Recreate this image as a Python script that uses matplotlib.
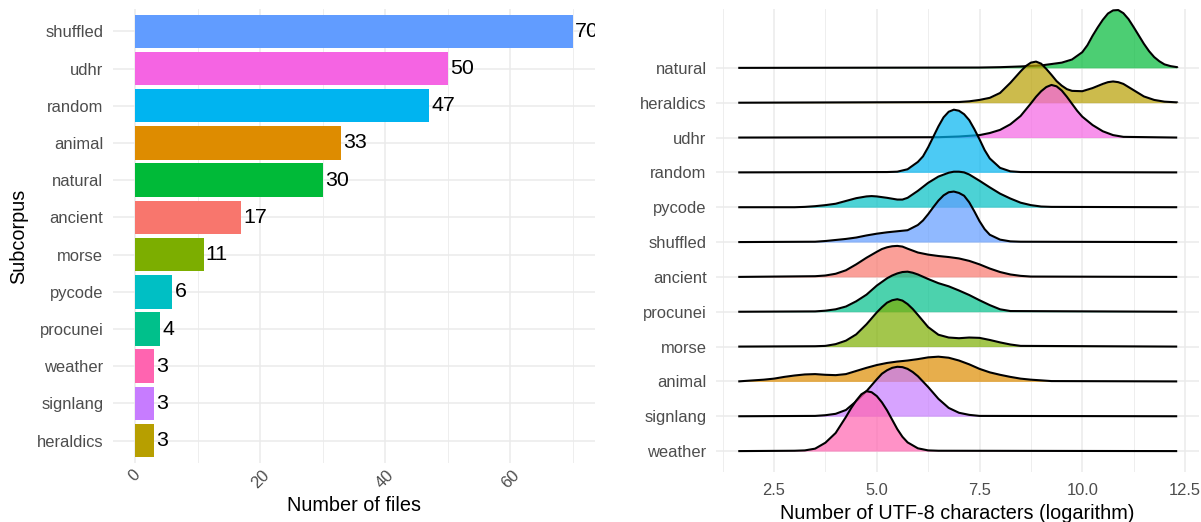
import numpy as np
import matplotlib
matplotlib.use("Agg")
import matplotlib.pyplot as plt
from matplotlib.ticker import MultipleLocator

plt.rcParams['font.family'] = ['Liberation Sans', 'DejaVu Sans']

# ---- left panel: number of files per subcorpus (top to bottom)
bar_names = ["shuffled", "udhr", "random", "animal", "natural", "ancient",
             "morse", "pycode", "procunei", "weather", "signlang", "heraldics"]
bar_counts = [70, 50, 47, 33, 30, 17, 11, 6, 4, 3, 3, 3]

# ---- right panel: ridge order (bottom to top)
ridge_names = ["weather", "signlang", "animal", "morse", "procunei", "ancient",
               "shuffled", "pycode", "random", "udhr", "heraldics", "natural"]

# ggplot hue palette, alphabetical subcorpus order
colors = {
    "ancient": "#F8766D", "animal": "#DE8C00", "heraldics": "#B79F00",
    "morse": "#7CAE00", "natural": "#00BA38", "procunei": "#00C08B",
    "pycode": "#00BFC4", "random": "#00B4F0", "shuffled": "#619CFF",
    "signlang": "#C77CFF", "udhr": "#F564E3", "weather": "#FF64B0",
}

# density range (log of character counts)
x_min, x_max = 1.63, 12.31

# ridge heights (in row units): (x, height)
d_natural = [(7.5, .01), (8.0, .02), (8.5, .04), (9.0, .07), (9.5, .15), (9.75, .24),
             (10.0, .45), (10.125, .65), (10.25, .92), (10.375, 1.16), (10.5, 1.38),
             (10.625, 1.56), (10.75, 1.65), (10.875, 1.66), (11.0, 1.57), (11.125, 1.4),
             (11.25, 1.17), (11.375, .93), (11.5, .69), (11.625, .48), (11.75, .31),
             (11.875, .19), (12.0, .1), (12.15, .05), (12.31, .02)]
d_heraldics = [(7.0, .02), (7.25, .04), (7.5, .08), (7.75, .14), (8.0, .28), (8.25, .57),
               (8.5, .9), (8.625, 1.05), (8.75, 1.15), (8.875, 1.18), (9.0, 1.12),
               (9.125, .97), (9.25, .8), (9.375, .62), (9.5, .49), (9.625, .39), (9.75, .34),
               (10.0, .33), (10.25, .42), (10.5, .54), (10.625, .59), (10.75, .61),
               (10.875, .59), (11.0, .54), (11.25, .36), (11.5, .18), (11.75, .08),
               (12.0, .03), (12.31, .01)]
d_udhr = [(6.5, .01), (7.0, .03), (7.5, .07), (7.75, .13), (8.0, .22), (8.25, .38),
          (8.5, .62), (8.75, .98), (8.875, 1.17), (9.0, 1.33), (9.125, 1.45), (9.25, 1.51),
          (9.375, 1.47), (9.5, 1.35), (9.625, 1.17), (9.75, .97), (9.875, .77), (10.0, .6),
          (10.25, .36), (10.5, .18), (10.75, .07), (11.0, .02)]
d_random = [(5.25, .01), (5.5, .02), (5.75, .09), (6.0, .3), (6.125, .46), (6.25, .72),
            (6.375, 1.02), (6.5, 1.32), (6.625, 1.58), (6.75, 1.74), (6.875, 1.8),
            (7.0, 1.77), (7.125, 1.67), (7.25, 1.5), (7.375, 1.24), (7.5, .95),
            (7.625, .64), (7.75, .4), (8.0, .13), (8.25, .03), (8.5, .01)]
d_pycode = [(3.0, .0), (3.25, .01), (3.5, .03), (3.75, .06), (4.0, .1), (4.25, .18),
            (4.5, .26), (4.75, .31), (4.875, .32), (5.0, .31), (5.25, .27), (5.5, .22),
            (5.625, .22), (5.75, .27), (6.0, .47), (6.25, .7), (6.5, .88), (6.75, .99),
            (6.875, 1.02), (7.0, 1.02), (7.125, 1.0), (7.25, .94), (7.5, .76), (7.75, .57),
            (8.0, .39), (8.25, .25), (8.5, .13), (8.75, .06), (9.0, .02), (9.25, .01)]
d_shuffled = [(3.5, .01), (3.75, .03), (4.0, .06), (4.25, .09), (4.5, .13), (4.75, .19),
              (5.0, .24), (5.25, .28), (5.5, .31), (5.75, .34), (6.0, .49), (6.125, .62),
              (6.25, .8), (6.375, 1.0), (6.5, 1.19), (6.625, 1.34), (6.75, 1.43),
              (6.875, 1.45), (7.0, 1.41), (7.125, 1.33), (7.25, 1.14), (7.375, .88),
              (7.5, .6), (7.625, .37), (7.75, .21), (8.0, .07), (8.25, .02), (8.5, .01)]
d_ancient = [(3.5, .02), (3.75, .04), (4.0, .09), (4.25, .19), (4.5, .36), (4.75, .55),
             (5.0, .72), (5.125, .8), (5.25, .85), (5.375, .88), (5.5, .89), (5.625, .87),
             (5.75, .81), (6.0, .7), (6.25, .64), (6.5, .6), (6.75, .57), (7.0, .53),
             (7.25, .46), (7.5, .36), (7.75, .24), (8.0, .14), (8.25, .07), (8.5, .03),
             (8.75, .01)]
d_procunei = [(3.5, .01), (3.75, .03), (4.0, .07), (4.25, .15), (4.5, .3), (4.75, .49),
              (5.0, .75), (5.25, .96), (5.375, 1.04), (5.5, 1.1), (5.625, 1.14), (5.75, 1.15),
              (5.875, 1.12), (6.0, 1.07), (6.25, .94), (6.5, .82), (6.75, .73), (7.0, .61),
              (7.25, .48), (7.5, .33), (7.75, .19), (8.0, .07), (8.25, .02)]
d_morse = [(3.5, .01), (3.75, .02), (4.0, .07), (4.25, .17), (4.5, .35), (4.75, .64),
           (5.0, .98), (5.125, 1.13), (5.25, 1.26), (5.375, 1.33), (5.5, 1.36), (5.625, 1.32),
           (5.75, 1.22), (5.875, 1.08), (6.0, .91), (6.25, .56), (6.5, .34), (6.75, .26),
           (7.0, .24), (7.25, .26), (7.5, .25), (7.75, .19), (8.0, .12), (8.25, .06),
           (8.5, .02)]
d_animal = [(1.75, .01), (2.0, .03), (2.25, .05), (2.5, .08), (2.75, .13), (3.0, .17),
            (3.25, .2), (3.5, .21), (3.75, .19), (4.0, .18), (4.25, .21), (4.5, .3),
            (4.75, .39), (5.0, .47), (5.25, .53), (5.5, .57), (5.75, .6), (6.0, .64),
            (6.25, .69), (6.5, .71), (6.75, .68), (7.0, .6), (7.25, .49), (7.5, .36),
            (7.75, .26), (8.0, .19), (8.25, .13), (8.5, .08), (8.75, .05), (9.0, .03),
            (9.25, .01)]
d_signlang = [(3.5, .01), (3.75, .03), (4.0, .07), (4.25, .18), (4.5, .43), (4.75, .72),
              (5.0, 1.06), (5.125, 1.22), (5.25, 1.32), (5.375, 1.39), (5.5, 1.42),
              (5.625, 1.41), (5.75, 1.36), (5.875, 1.27), (6.0, 1.15), (6.25, .84),
              (6.5, .5), (6.75, .24), (7.0, .1), (7.25, .04), (7.5, .01)]
d_weather = [(3.0, .01), (3.25, .02), (3.5, .07), (3.75, .24), (4.0, .52), (4.25, .98),
             (4.375, 1.23), (4.5, 1.45), (4.625, 1.63), (4.75, 1.72), (4.875, 1.69),
             (5.0, 1.58), (5.125, 1.4), (5.25, 1.17), (5.375, .9), (5.5, .63), (5.625, .41),
             (5.75, .25), (6.0, .08), (6.25, .02), (6.5, .01)]

ridges = {
    "natural": d_natural, "heraldics": d_heraldics, "udhr": d_udhr,
    "random": d_random, "pycode": d_pycode, "shuffled": d_shuffled,
    "ancient": d_ancient, "procunei": d_procunei, "morse": d_morse,
    "animal": d_animal, "signlang": d_signlang, "weather": d_weather,
}

GRID = "#EBEBEB"
TICK = "#4D4D4D"

fig = plt.figure(figsize=(12.01, 5.22), dpi=100)
ax1 = fig.add_axes([113 / 1201, 59 / 522, 482 / 1201, 454 / 522])
ax2 = fig.add_axes([716.3 / 1201, 50 / 522, 482.7 / 1201, 463 / 522])

for ax in (ax1, ax2):
    for s in ax.spines.values():
        s.set_visible(False)
    ax.set_axisbelow(True)
    ax.tick_params(which="both", length=0, colors=TICK, labelsize=11.9)
    ax.grid(which="major", color=GRID, lw=1.1)
    ax.grid(which="minor", color=GRID, lw=0.6)

# ---- bars
ypos = np.arange(len(bar_names))[::-1]
ax1.barh(ypos, bar_counts, height=0.9,
         color=[colors[n] for n in bar_names])
for y, v in zip(ypos, bar_counts):
    ax1.annotate(str(v), (v, y), xytext=(1.5, 0), textcoords="offset points",
                 ha="left", va="center", fontsize=15.4, color="black",
                 annotation_clip=False, clip_on=True)
ax1.set_xlim(-3.5, 73.5)
ax1.set_ylim(-0.6, len(bar_names) - 0.4)
ax1.set_yticks(ypos)
ax1.set_yticklabels(bar_names)
ax1.xaxis.set_major_locator(MultipleLocator(20))
ax1.xaxis.set_minor_locator(MultipleLocator(10))
ax1.grid(which="minor", axis="y", visible=False)
ax1.tick_params(axis="x", which="both", pad=3)
ax1.tick_params(axis="y", pad=7)
for lab in ax1.get_xticklabels():
    lab.set_rotation(45)
    lab.set_ha("center")
ax1.set_xlabel("Number of files", fontsize=14.3, labelpad=4)
ax1.set_ylabel("Subcorpus", fontsize=14.3, labelpad=6)

# ---- ridges (top rows first, lower rows drawn over them)
for i in range(len(ridge_names) - 1, -1, -1):
    name = ridge_names[i]
    pts = ridges[name]
    xs = np.array([x_min] + [p[0] for p in pts] + [x_max])
    ys = i + np.array([0.0] + [p[1] for p in pts] + [0.0])
    ax2.fill_between(xs, i, ys, color=colors[name], alpha=0.7, lw=0,
                     zorder=2 + 2 * (11 - i))
    ax2.plot(xs, ys, color="black", lw=1.5, zorder=3 + 2 * (11 - i),
             solid_capstyle="butt", solid_joinstyle="round")

ax2.set_xlim(1.096, 12.84)
ax2.set_ylim(-0.6, 11 + 1.69)
ax2.set_yticks(range(len(ridge_names)))
ax2.set_yticklabels(ridge_names)
ax2.xaxis.set_major_locator(MultipleLocator(2.5))
ax2.xaxis.set_minor_locator(MultipleLocator(1.25))
ax2.xaxis.set_major_formatter(plt.FuncFormatter(lambda v, p: f"{v:.1f}"))
ax2.grid(which="minor", axis="y", visible=False)
ax2.tick_params(axis="x", which="both", pad=8)
ax2.tick_params(axis="y", pad=7)
ax2.set_xlabel("Number of UTF-8 characters (logarithm)", fontsize=14.3, labelpad=4)

fig.savefig("out.png", dpi=100)
